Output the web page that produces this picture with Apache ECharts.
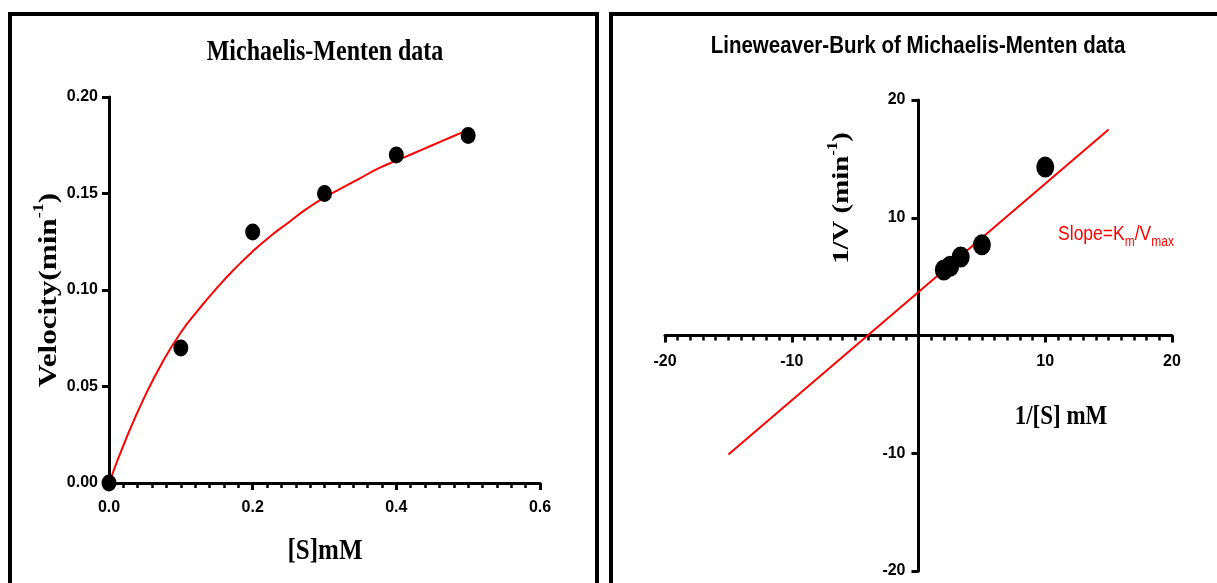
<!DOCTYPE html>
<html>
<head>
<meta charset="utf-8">
<script src="https://cdn.jsdelivr.net/npm/echarts@6/dist/echarts.min.js"></script>
<style>
  html, body { margin: 0; padding: 0; background: #fff; }
  #main { width: 1217px; height: 583px; }
</style>
</head>
<body>
<div id="main"></div>
<script>
// Michaelis-Menten measurements
const substrate = [0, 0.1, 0.2, 0.3, 0.4, 0.5]
const velocity = [0, 0.07, 0.13, 0.15, 0.17, 0.18]

// fitted curve
const fitS = [0, 0.025, 0.05, 0.075, 0.1, 0.125, 0.15, 0.175, 0.2, 0.225, 0.25,
    0.275, 0.3, 0.325, 0.35, 0.375, 0.4, 0.425, 0.45, 0.475, 0.5]
const fitV = [0, 0.024, 0.045, 0.063, 0.078, 0.09, 0.101, 0.111, 0.12, 0.128, 0.135,
    0.142, 0.148, 0.153, 0.158, 0.163, 0.167, 0.171, 0.175, 0.179, 0.183]

// Lineweaver-Burk points (1/[S], 1/V)
const invS = [10, 5, 3.33, 2.5, 2]
const invV = [14.3, 7.7, 6.67, 5.88, 5.56]

// regression line end points
const lbLineX = [-15, 15]
const lbLineY = [-10.1, 17.5]

const zip = (a, b) => a.map((v, i) => [v, b[i]])

const tickFont = { fontFamily: 'Liberation Sans', fontWeight: 'bold', fontSize: 16, color: '#000' }
const axisBlack = { show: true, onZero: false, lineStyle: { color: '#000', width: 3 } }
const majorTick = { show: true, length: 7, lineStyle: { color: '#000', width: 3 } }
const minorTick = { show: true, splitNumber: 10, length: 5, lineStyle: { color: '#000', width: 2.5 } }

// the original picture is stretched a bit in height, so texts get scaleY / scaleX
function label(text, x, y, size, opts) {
    opts = opts || {}
    return {
        type: 'text', x: x, y: y,
        rotation: opts.rotate ? Math.PI / 2 : 0,
        scaleX: opts.rotate ? 1.2 : 1,
        scaleY: opts.rotate ? 1 : 1.2,
        style: {
            text: text,
            fontFamily: opts.family || 'Liberation Serif',
            fontWeight: opts.weight || 'bold',
            fontSize: size,
            fill: opts.color || '#000',
            align: 'center',
            verticalAlign: 'middle',
            rich: opts.rich
        }
    }
}

const serifSup = (size) => ({
    n: { fontFamily: 'Liberation Serif', fontWeight: 'bold', fontSize: size, fill: '#000', lineHeight: size + 4, verticalAlign: 'bottom' },
    s: { fontFamily: 'Liberation Serif', fontWeight: 'bold', fontSize: Math.round(size * 0.58), fill: '#000', lineHeight: size + 4, verticalAlign: 'top' }
})

let myChart = echarts.init(document.getElementById('main'))

myChart.setOption({
    animation: false,
    grid: [
        { left: 109, top: 97, width: 431, height: 386 },
        { left: 665, top: 100, width: 507, height: 471 }
    ],
    xAxis: [
        {
            type: 'value', gridIndex: 0, min: 0, max: 0.6, interval: 0.2,
            axisLine: axisBlack, axisTick: majorTick, minorTick: minorTick,
            splitLine: { show: false },
            axisLabel: Object.assign({ margin: 17, formatter: v => v.toFixed(1) }, tickFont)
        },
        {
            type: 'value', gridIndex: 1, min: -20, max: 20, interval: 10,
            offset: -235.5,
            axisLine: axisBlack, axisTick: majorTick, minorTick: minorTick,
            splitLine: { show: false },
            axisLabel: Object.assign({ margin: 18, formatter: v => (v === 0 ? '' : String(v)) }, tickFont)
        }
    ],
    yAxis: [
        {
            type: 'value', gridIndex: 0, min: 0, max: 0.2, interval: 0.05,
            axisLine: axisBlack, axisTick: majorTick,
            splitLine: { show: false },
            axisLabel: Object.assign({ margin: 11, formatter: v => v.toFixed(2) }, tickFont)
        },
        {
            type: 'value', gridIndex: 1, min: -20, max: 20, interval: 10,
            offset: -253.5,
            axisLine: axisBlack, axisTick: majorTick,
            splitLine: { show: false },
            axisLabel: Object.assign({ margin: 13, formatter: v => (v === 0 ? '' : String(v)) }, tickFont)
        }
    ],
    graphic: [
        { type: 'rect', shape: { x: 10, y: 14, width: 587, height: 620 }, style: { fill: 'none', stroke: '#000', lineWidth: 4 } },
        { type: 'rect', shape: { x: 611, y: 14, width: 640, height: 620 }, style: { fill: 'none', stroke: '#000', lineWidth: 4 } },
        label('Michaelis-Menten data', 325, 53, 24),
        label('Lineweaver-Burk of Michaelis-Menten data', 918, 46, 20.5, { family: 'Liberation Sans' }),
        label('{n|Velocity(min}{s|-1}{n|)}', 47, 290, 26, { rotate: true, rich: serifSup(26) }),
        label('[S]mM', 325, 551, 25),
        label('{n|1/V (min}{s|-1}{n|)}', 840, 198, 24, { rotate: true, rich: serifSup(24) }),
        label('1/[S] mM', 1061, 417, 23),
        label('{a|Slope=K}{b|m}{a|/V}{b|max}', 1116, 232, 17.5, {
            family: 'Liberation Sans', weight: 'normal', color: '#ff0000',
            rich: {
                a: { fontFamily: 'Liberation Sans', fontSize: 17.5, fill: '#ff0000', lineHeight: 22, verticalAlign: 'bottom' },
                b: { fontFamily: 'Liberation Sans', fontSize: 12, fill: '#ff0000', lineHeight: 22, verticalAlign: 'bottom', padding: [0, 0, -3, 0] }
            }
        })
    ],
    series: [
        {
            type: 'line', xAxisIndex: 0, yAxisIndex: 0,
            data: zip(fitS, fitV), smooth: true, showSymbol: false,
            lineStyle: { color: '#ff0000', width: 2 }, z: 2
        },
        {
            type: 'scatter', xAxisIndex: 0, yAxisIndex: 0,
            data: zip(substrate, velocity), symbolSize: [15, 17],
            itemStyle: { color: '#000', opacity: 1 }, clip: false, z: 3
        },
        {
            type: 'line', xAxisIndex: 1, yAxisIndex: 1,
            data: zip(lbLineX, lbLineY), showSymbol: false,
            lineStyle: { color: '#ff0000', width: 2 }, z: 2
        },
        {
            type: 'scatter', xAxisIndex: 1, yAxisIndex: 1,
            data: zip(invS, invV), symbolSize: [18, 21],
            itemStyle: { color: '#000', opacity: 1 }, z: 3
        }
    ]
})
</script>
</body>
</html>
